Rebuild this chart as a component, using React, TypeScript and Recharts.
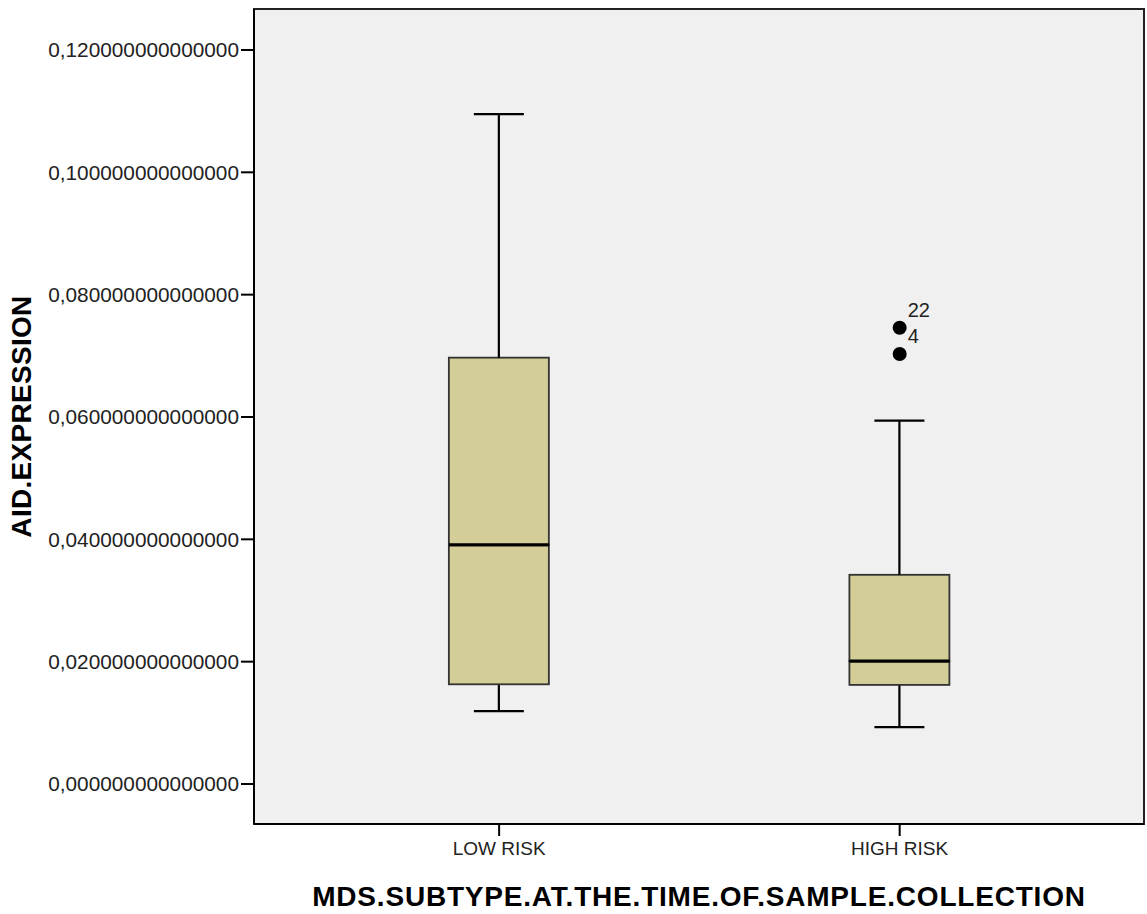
import React from "react";
import {
  ComposedChart,
  Bar,
  Scatter,
  XAxis,
  YAxis,
  CartesianGrid,
  ReferenceArea,
  Label,
} from "recharts";

// groups, in axis order
const groups = ["LOW RISK", "HIGH RISK"];
const groupPos = [1, 2];

// box plot stats
const mins = [0.0119, 0.0093];
const q1s = [0.0163, 0.0162];
const medians = [0.0391, 0.0201];
const q3s = [0.0697, 0.0342];
const maxs = [0.1095, 0.0594];

// outliers (case numbers as labels)
const outlierGroup = [2, 2];
const outlierValues = [0.0746, 0.0703];
const outlierCases = ["22", "4"];

const yTicks = [0, 0.02, 0.04, 0.06, 0.08, 0.1, 0.12];
const yDomain: [number, number] = [-0.00654, 0.1267];
const xDomain: [number, number] = [0.388, 2.61];

const FONT = "'Liberation Sans', Arial, sans-serif";
const BOX_FILL = "#D3CD97";

const data = groupPos.map((x, i) => ({
  x,
  base: mins[i],
  lowWhisker: q1s[i] - mins[i],
  lowBox: medians[i] - q1s[i],
  highBox: q3s[i] - medians[i],
  highWhisker: maxs[i] - q3s[i],
}));

const outliers = outlierValues.map((y, i) => ({
  x: outlierGroup[i],
  y,
  label: outlierCases[i],
}));

const CAP = 50;

const Empty = () => <g />;

const LowWhisker = (p: any) => {
  const cx = p.x + p.width / 2;
  const bottom = p.y + p.height;
  return (
    <g>
      <line x1={cx} x2={cx} y1={p.y} y2={bottom} stroke="#000" strokeWidth={2.2} />
      <line x1={cx - CAP / 2} x2={cx + CAP / 2} y1={bottom} y2={bottom} stroke="#000" strokeWidth={2.2} />
    </g>
  );
};

const HighWhisker = (p: any) => {
  const cx = p.x + p.width / 2;
  return (
    <g>
      <line x1={cx} x2={cx} y1={p.y} y2={p.y + p.height} stroke="#000" strokeWidth={2.2} />
      <line x1={cx - CAP / 2} x2={cx + CAP / 2} y1={p.y} y2={p.y} stroke="#000" strokeWidth={2.2} />
    </g>
  );
};

const LowBox = (p: any) => (
  <g>
    <rect x={p.x} y={p.y} width={p.width} height={p.height} fill={BOX_FILL} stroke="#333" strokeWidth={1.8} />
    <line x1={p.x} x2={p.x + p.width} y1={p.y} y2={p.y} stroke="#000" strokeWidth={3} />
  </g>
);

const HighBox = (p: any) => (
  <g>
    <rect x={p.x} y={p.y} width={p.width} height={p.height} fill={BOX_FILL} stroke="#333" strokeWidth={1.8} />
    <line x1={p.x} x2={p.x + p.width} y1={p.y + p.height} y2={p.y + p.height} stroke="#000" strokeWidth={3} />
  </g>
);

const OutlierDot = (p: any) => (
  <g>
    <circle cx={p.cx} cy={p.cy} r={7} fill="#000" />
    <text x={p.cx + 8} y={p.cy - 11} fontSize={20} fontFamily={FONT} fill="#222">
      {p.payload.label}
    </text>
  </g>
);

const fmt = (v: number) => v.toFixed(15).replace(".", ",");

export default function App() {
  return (
    <div style={{ width: 1147, height: 914, background: "#fff" }}>
      <style>{"body{margin:0}"}</style>
      <ComposedChart
        width={1147}
        height={914}
        data={data}
        margin={{ top: 9, right: 3, bottom: 0, left: 0 }}
      >
        <CartesianGrid fill="#F0F0F0" horizontal={false} vertical={false} />
        <XAxis
          type="number"
          dataKey="x"
          domain={xDomain}
          allowDataOverflow
          ticks={groupPos}
          tickFormatter={(v: number) => groups[v - 1]}
          height={90}
          tickSize={12}
          tickMargin={6}
          axisLine={{ stroke: "#000", strokeWidth: 2 }}
          tickLine={{ stroke: "#000", strokeWidth: 2 }}
          tick={{ fontSize: 19, fontFamily: FONT, fill: "#222" }}
        >
          <Label
            content={(props: any) => {
              const vb = props.viewBox;
              return (
                <text
                  x={vb.x + vb.width / 2}
                  y={vb.y + 82}
                  textAnchor="middle"
                  fontSize={28}
                  fontWeight="bold"
                  letterSpacing={0.8}
                  fontFamily={FONT}
                  fill="#000"
                >
                  MDS.SUBTYPE.AT.THE.TIME.OF.SAMPLE.COLLECTION
                </text>
              );
            }}
          />
        </XAxis>
        <YAxis
          type="number"
          domain={yDomain}
          allowDataOverflow
          ticks={yTicks}
          tickFormatter={fmt}
          width={254}
          tickSize={13}
          tickMargin={2}
          axisLine={{ stroke: "#000", strokeWidth: 2 }}
          tickLine={{ stroke: "#000", strokeWidth: 2 }}
          tick={{ fontSize: 20.8, fontFamily: FONT, fill: "#222" }}
        >
          <Label
            content={(props: any) => {
              const vb = props.viewBox;
              const cx = 31;
              const cy = vb.y + vb.height / 2;
              return (
                <text
                  x={cx}
                  y={cy}
                  transform={`rotate(-90, ${cx}, ${cy})`}
                  textAnchor="middle"
                  fontSize={28}
                  fontWeight="bold"
                  letterSpacing={0.3}
                  fontFamily={FONT}
                  fill="#000"
                >
                  AID.EXPRESSION
                </text>
              );
            }}
          />
        </YAxis>
        <Bar dataKey="base" stackId="box" barSize={100} shape={<Empty />} isAnimationActive={false} />
        <Bar dataKey="lowWhisker" stackId="box" barSize={100} shape={<LowWhisker />} isAnimationActive={false} />
        <Bar dataKey="lowBox" stackId="box" barSize={100} shape={<LowBox />} isAnimationActive={false} />
        <Bar dataKey="highBox" stackId="box" barSize={100} shape={<HighBox />} isAnimationActive={false} />
        <Bar dataKey="highWhisker" stackId="box" barSize={100} shape={<HighWhisker />} isAnimationActive={false} />
        <Scatter data={outliers} dataKey="y" shape={<OutlierDot />} isAnimationActive={false} />
        <ReferenceArea
          x1={xDomain[0]}
          x2={xDomain[1]}
          y1={yDomain[0]}
          y2={yDomain[1]}
          fill="none"
          stroke="#222"
          strokeWidth={2}
          ifOverflow="visible"
        />
      </ComposedChart>
    </div>
  );
}
